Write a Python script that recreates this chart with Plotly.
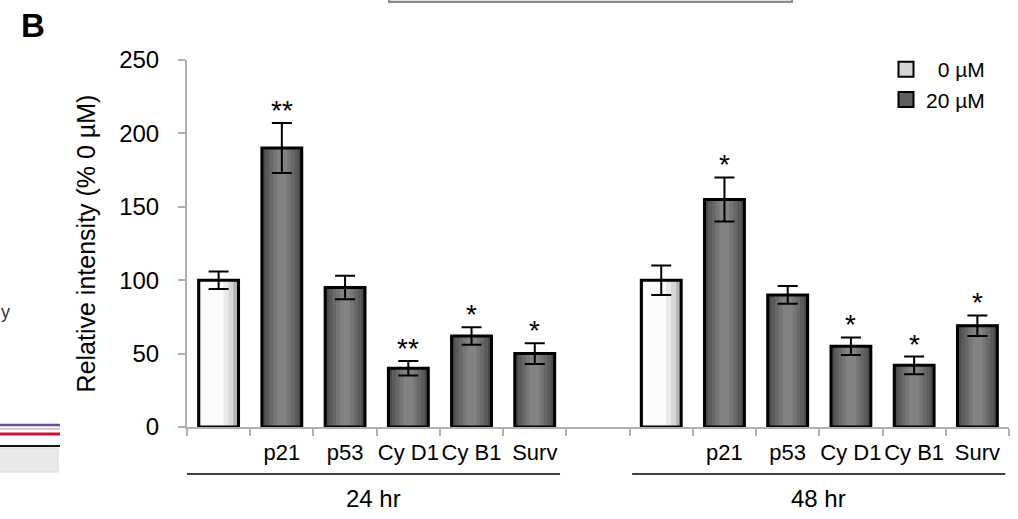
import plotly.graph_objects as go

# ---- data ----
genes = ["", "p21", "p53", "Cy D1", "Cy B1", "Surv"]
groups = ["24 hr", "48 hr"]
doses = ["0 µM", "20 µM"]
vals_24 = [100, 190, 95, 40, 62, 50]
err_24 = [6, 17, 8, 5, 6, 7]
vals_48 = [100, 155, 90, 55, 42, 69]
err_48 = [10, 15, 6, 6, 6, 7]
sig_24 = ["", "**", "", "**", "*", "*"]
sig_48 = ["", "*", "", "*", "*", "*"]

# ---- layout helpers (pixel -> paper) ----
W, H = 1018, 519
L, R, T, B = 187, 9, 60, 92
PW, PH = W - L - R, H - T - B
def px(x):
    return (x - L) / PW
def py(y):
    return (H - B - y) / PH

FONT = "Liberation Sans, Arial, sans-serif"

ids_24 = [f"24|{i}" for i in range(len(genes))]
ids_48 = [f"48|{i}" for i in range(len(genes))]
all_ids = ids_24 + ["gap"] + ids_48
tick_text = genes + [""] + genes

x0 = [ids_24[0], ids_48[0]]
y0 = [vals_24[0], vals_48[0]]
e0 = [err_24[0], err_48[0]]
x20 = ids_24[1:] + ids_48[1:]
y20 = vals_24[1:] + vals_48[1:]
e20 = err_24[1:] + err_48[1:]

BW = 0.63
fig = go.Figure()

# base layers
fig.add_trace(go.Bar(x=x0, y=y0, width=BW, name=doses[0],
                     marker=dict(color="#b4b4b4", line=dict(color="black", width=2)),
                     showlegend=False, hoverinfo="skip"))
fig.add_trace(go.Bar(x=x20, y=y20, width=BW, name=doses[1],
                     marker=dict(color="#4a4a4a", line=dict(color="black", width=2)),
                     showlegend=False, hoverinfo="skip"))

# gradient layers for 0 µM (light, shaded on right)
for w, c in [(0.52, "#d6d6d6"), (0.44, "#eaeaea"), (0.36, "#fbfbfb")]:
    fig.add_trace(go.Bar(x=x0, y=y0, width=w, offset=-BW / 2 + 0.03,
                         marker=dict(color=c, line=dict(width=0)),
                         showlegend=False, hoverinfo="skip"))
# gradient layers for 20 µM (dark edges, lighter centre)
for w, c in [(0.52, "#5a5a5a"), (0.40, "#686868"), (0.28, "#767676"), (0.16, "#828282")]:
    fig.add_trace(go.Bar(x=x20, y=y20, width=w,
                         marker=dict(color=c, line=dict(width=0)),
                         showlegend=False, hoverinfo="skip"))

# outlines + error bars on top
for xs, ys, es in [(x0, y0, e0), (x20, y20, e20)]:
    fig.add_trace(go.Bar(x=xs, y=ys, width=BW,
                         marker=dict(color="rgba(0,0,0,0)", line=dict(color="black", width=3)),
                         error_y=dict(type="data", array=es, color="black", thickness=2, width=10),
                         showlegend=False, hoverinfo="skip"))

# legend entries
for name, col in [("\u00a0\u00a0" + doses[0], "#d4d4d4"), (doses[1], "#5e5e5e")]:
    fig.add_trace(go.Scatter(x=[None], y=[None], mode="markers", name=name,
                             marker=dict(symbol="square", size=15, color=col,
                                         line=dict(color="black", width=2))))

annotations = []
# significance stars
for ids, vals, errs, sig in [(ids_24, vals_24, err_24, sig_24), (ids_48, vals_48, err_48, sig_48)]:
    for i, s in enumerate(sig):
        if s:
            annotations.append(dict(x=ids[i], y=vals[i] + errs[i], xref="x", yref="y",
                                    text=s, showarrow=False, yanchor="bottom", yshift=-5,
                                    font=dict(size=28, color="black", family=FONT)))

# group labels and lines
shapes = []
grp_spans = [(-0.5, 5.4), (6.54, 12.44)]
for g, (a, b) in zip(groups, grp_spans):
    shapes.append(dict(type="line", xref="x", yref="paper", x0=a, x1=b,
                       y0=py(474), y1=py(474), line=dict(color="black", width=1.5)))
    annotations.append(dict(x=(a + b) / 2, y=py(498), xref="x", yref="paper",
                            text=g, showarrow=False, yanchor="middle",
                            font=dict(size=24, color="black", family=FONT)))

# panel letter
annotations.append(dict(x=px(19), y=py(26), xref="paper", yref="paper", text="<b>B</b>",
                        showarrow=False, xanchor="left", yanchor="middle",
                        font=dict(size=33, color="black", family=FONT)))

# fragments of neighbouring panels
annotations.append(dict(x=px(0), y=py(312), xref="paper", yref="paper", text="y",
                        showarrow=False, xanchor="left", yanchor="middle", borderpad=0,
                        font=dict(size=18, color="#333333", family=FONT)))
shapes += [
    dict(type="rect", xref="paper", yref="paper", x0=px(389), x1=px(792), y0=py(-20), y1=py(2),
         fillcolor="#dddddd", line=dict(color="#8c8c8c", width=2)),
    dict(type="line", xref="paper", yref="paper", x0=px(-2), x1=px(60), y0=py(425), y1=py(425),
         line=dict(color="#6a4c9e", width=2.5)),
    dict(type="line", xref="paper", yref="paper", x0=px(-2), x1=px(60), y0=py(429), y1=py(429),
         line=dict(color="#e3c3d6", width=2)),
    dict(type="line", xref="paper", yref="paper", x0=px(-2), x1=px(60), y0=py(434), y1=py(434),
         line=dict(color="#cc1236", width=3)),
    dict(type="line", xref="paper", yref="paper", x0=px(-2), x1=px(60), y0=py(446), y1=py(446),
         line=dict(color="#111111", width=2)),
    dict(type="rect", xref="paper", yref="paper", x0=px(-2), x1=px(58), y0=py(448), y1=py(472),
         fillcolor="#e8e8e8", line=dict(color="#d8d8d8", width=1)),
]

fig.update_layout(
    width=W, height=H,
    margin=dict(l=L, r=R, t=T, b=B),
    paper_bgcolor="white", plot_bgcolor="white",
    barmode="overlay",
    font=dict(family=FONT, color="black"),
    showlegend=True,
    legend=dict(x=px(886), y=py(49), xanchor="left", yanchor="top",
                bgcolor="rgba(0,0,0,0)", font=dict(size=21, family=FONT),
                itemwidth=30, tracegroupgap=0),
    annotations=annotations,
    shapes=shapes,
)
fig.update_xaxes(type="category", categoryorder="array", categoryarray=all_ids,
                 range=[-0.5, len(all_ids) - 0.5],
                 tickmode="array", tickvals=all_ids, ticktext=tick_text, tickangle=0,
                 tickson="boundaries", ticks="outside", ticklen=7, tickwidth=2,
                 tickcolor="#b0b0b0", showline=True, linecolor="#b0b0b0", linewidth=2,
                 showgrid=False, zeroline=False, ticklabelstandoff=5,
                 tickfont=dict(size=22, family=FONT, color="black"))
fig.update_yaxes(range=[0, 250], dtick=50, ticks="outside", ticklen=7, tickwidth=2,
                 tickcolor="#b0b0b0", showline=True, linecolor="#b0b0b0", linewidth=2,
                 showgrid=False, zeroline=False, ticklabelstandoff=14,
                 tickfont=dict(size=24, family=FONT, color="black"),
                 title=dict(text="Relative intensity (% 0 µM)", standoff=16,
                            font=dict(size=25, family=FONT, color="black")))

fig.write_html("out.html")
